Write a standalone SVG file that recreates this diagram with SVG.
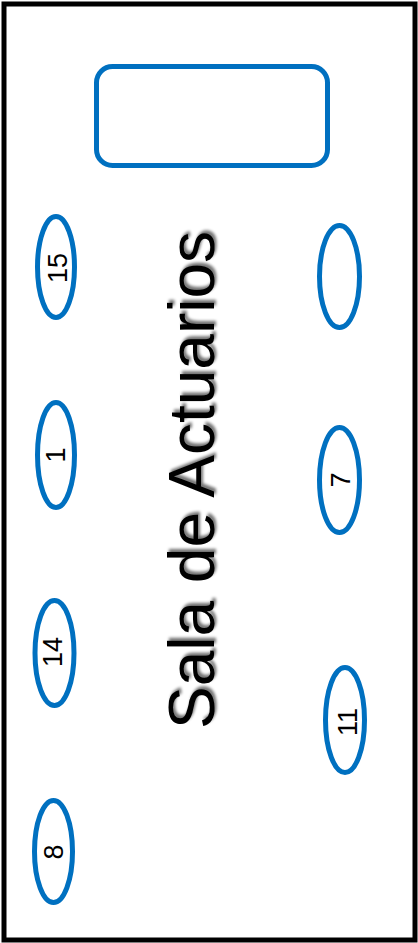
<svg xmlns="http://www.w3.org/2000/svg" width="418" height="943" viewBox="0 0 418 943">
<defs>
<style>
.seat{fill:#fff;stroke:#0070C0;stroke-width:5}
.num{font-family:"Liberation Sans",Arial,sans-serif;font-size:27px;fill:#000;text-anchor:middle}
.title{font-family:"Liberation Sans",Arial,sans-serif;font-size:64px;fill:#000;text-anchor:middle}
</style>
<filter id="shadow" x="-20%" y="-20%" width="140%" height="140%">
<feGaussianBlur in="SourceAlpha" stdDeviation="1.6"/>
<feOffset dx="3" dy="2" result="b"/>
<feComponentTransfer><feFuncA type="linear" slope="0.55"/></feComponentTransfer>
<feMerge><feMergeNode/><feMergeNode in="SourceGraphic"/></feMerge>
</filter>
</defs>
<rect x="4" y="4" width="411" height="936" fill="#fff" stroke="#000" stroke-width="5"/>
<g id="screen"><rect x="96.5" y="66.5" width="231" height="99" rx="16" fill="#fff" stroke="#0070C0" stroke-width="5"/></g>
<g id="title"><text class="title" x="214" y="480" transform="rotate(-90 214 480)" filter="url(#shadow)">Sala de Actuarios</text></g>
<g id="seat15"><ellipse class="seat" cx="56" cy="267" rx="18.5" ry="50.5"/><text class="num" x="67" y="268" transform="rotate(-90 67 268)">15</text></g>
<g id="seat1"><ellipse class="seat" cx="56" cy="455" rx="18.5" ry="52.5"/><text class="num" x="65" y="455" transform="rotate(-90 65 455)">1</text></g>
<g id="seat14"><ellipse class="seat" cx="54.5" cy="653" rx="19.5" ry="52.5"/><text class="num" x="62" y="652" transform="rotate(-90 62 652)">14</text></g>
<g id="seat8"><ellipse class="seat" cx="53.5" cy="851.5" rx="19" ry="51"/><text class="num" x="63" y="852" transform="rotate(-90 63 852)">8</text></g>
<g id="seatR"><ellipse class="seat" cx="339.5" cy="276.5" rx="20" ry="51"/></g>
<g id="seat7"><ellipse class="seat" cx="339.5" cy="480" rx="20" ry="52.5"/><text class="num" x="350" y="480" transform="rotate(-90 350 480)">7</text></g>
<g id="seat11"><ellipse class="seat" cx="345" cy="720" rx="19.5" ry="52.5"/><text class="num" x="357" y="722" transform="rotate(-90 357 722)">11</text></g>
<g id="connectors"></g>
</svg>
